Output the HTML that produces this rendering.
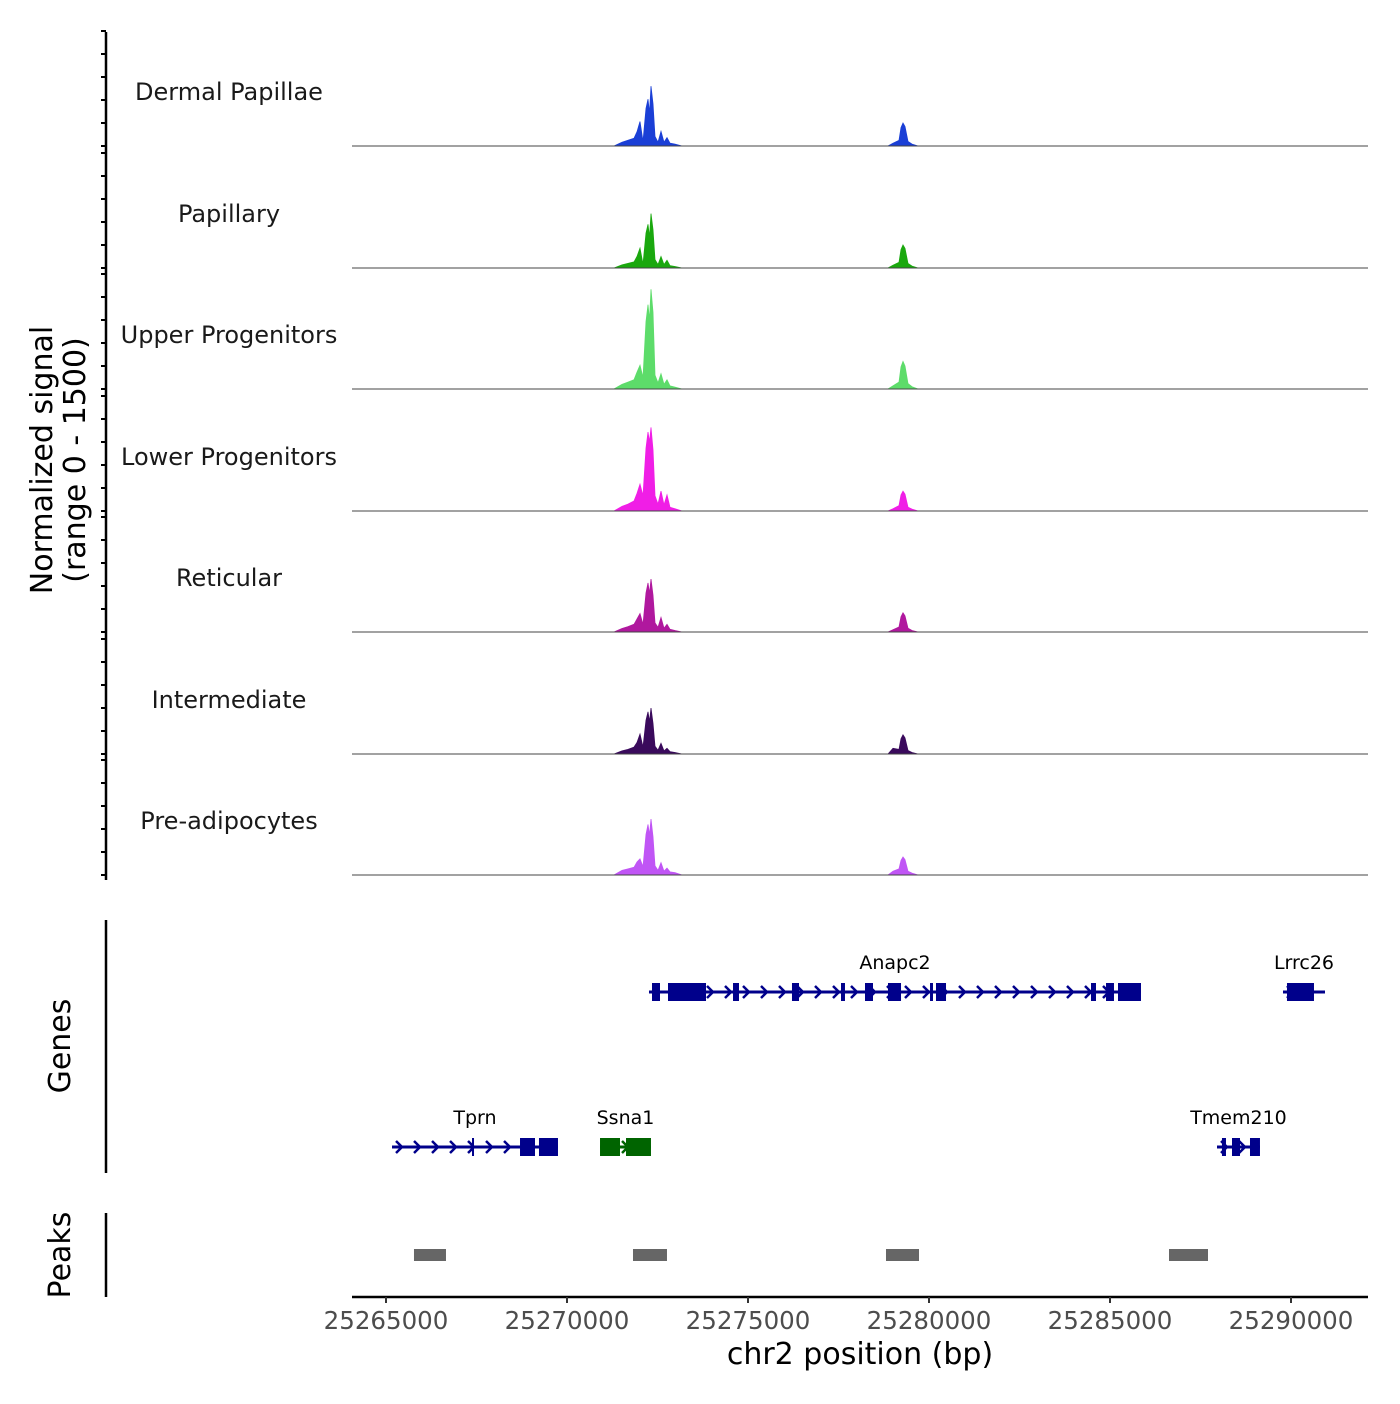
<!DOCTYPE html>
<html><head><meta charset="utf-8"><style>
body{margin:0;background:#fff;font-family:"DejaVu Sans","Liberation Sans",sans-serif}
</style></head><body>
<svg id="chart" width="1400" height="1400" xmlns="http://www.w3.org/2000/svg" font-family="DejaVu Sans, Liberation Sans, sans-serif"></svg>
<script>
const trackNames = ["Dermal Papillae","Papillary","Upper Progenitors","Lower Progenitors","Reticular","Intermediate","Pre-adipocytes"];
const trackColors = ["#1a3fd6","#1aa80e","#5ddc6a","#f01ee6","#b0189e","#3a0a5c","#c055f5"];
const binPos = [25271298,25271519,25271685,25271851,25271934,25272017,25272099,25272182,25272238,25272279,25272320,25272376,25272431,25272514,25272597,25272680,25272762,25272845,25272983,25273177,
 25278867,25279006,25279171,25279227,25279282,25279337,25279420,25279530,25279696];
const sigDermal = [0,50,75,100,185,320,60,490,610,430,780,550,125,50,190,50,110,37,25,0, 0,37,75,240,300,255,60,25,0];
const sigPapillary = [0,40,60,80,150,260,50,455,570,400,710,500,110,45,150,45,100,30,20,0, 0,37,75,240,300,255,60,25,0];
const sigUpper = [0,60,90,120,220,310,150,880,1100,900,1300,1000,180,80,200,60,120,40,25,0, 0,40,90,290,360,300,70,30,0];
const sigLower = [0,60,90,130,230,350,200,820,1030,900,1090,800,200,90,260,80,210,50,30,0, 0,30,70,210,260,220,50,25,0];
const sigReticular = [0,45,70,100,170,240,100,510,640,500,690,480,120,60,190,50,100,35,20,0, 0,30,65,200,250,210,50,20,0];
const sigIntermediate = [0,40,60,90,150,260,90,440,550,420,600,400,100,50,140,40,75,30,20,0, 0,75,60,200,250,210,45,20,0];
const sigPreadipo = [0,60,80,100,170,210,110,530,660,520,730,500,120,60,160,50,90,40,30,0, 0,50,80,190,235,200,50,25,0];
const signals = [sigDermal,sigPapillary,sigUpper,sigLower,sigReticular,sigIntermediate,sigPreadipo];
const yTickVals = [0,300,600,900,1200,1500];
const xTicks = [25265000,25270000,25275000,25280000,25285000,25290000];
const geneNames = ["Anapc2","Lrrc26","Tprn","Ssna1","Tmem210"];
const geneStart = [25272265,25289779,25265166,25270912,25287956];
const geneEnd = [25285856,25290939,25269751,25272320,25289143];
const geneRow = [0,0,1,1,1];
const geneColor = ["#00008b","#00008b","#00008b","#006400","#00008b"];
const geneExons = [
 [[25272348,25272569],[25272790,25273840],[25274586,25274751],[25276215,25276409],[25277569,25277679],[25278232,25278453],[25278867,25279227],[25280028,25280110],[25280193,25280470],[25284475,25284613],[25284890,25285110],[25285221,25285856]],
 [[25289889,25290635]],
 [[25267376,25267430],[25268702,25269116],[25269226,25269751]],
 [[25270912,25271464],[25271630,25272320]],
 [[25288093,25288204],[25288370,25288591],[25288867,25289143]]
];
const peakStart = [25265773,25271823,25278812,25286630];
const peakEnd = [25266657,25272762,25279724,25287707];

const NS="http://www.w3.org/2000/svg";
const svg=document.getElementById('chart');
function mk(t,a,p){const e=document.createElementNS(NS,t);for(const k in a)e.setAttribute(k,a[k]);(p||svg).appendChild(e);return e;}
const X0=352,X1=1368;
const xs=bp=>386+(bp-25265000)*(905/25000);
const baselines=[146,268,389,511,632,754,875];
const ys=(v,b)=>b-v*(115/1500);

let e=mk('line',{x1:106,y1:32,x2:106,y2:880,stroke:'#000','stroke-width':2.5});


baselines.forEach((b,i)=>{
  yTickVals.forEach(v=>{
    const t=mk('line',{x1:101,x2:106,y1:ys(v,b),y2:ys(v,b),stroke:'#000','stroke-width':2});
    
    
  });
});
trackNames.forEach((n,i)=>{
  const b=baselines[i];
  const sig=signals[i];
  let d=`M${X0},${b} L${xs(binPos[0])},${b}`;
  for(let k=0;k<binPos.length;k++){d+=` L${xs(binPos[k]).toFixed(1)},${ys(sig[k],b).toFixed(1)}`;}
  d+=` L${xs(binPos[binPos.length-1])},${b} Z`;
  const p=mk('path',{d:d,fill:trackColors[i],stroke:trackColors[i],'stroke-width':0.8});
  
  
  const bl=mk('line',{x1:X0,x2:X1,y1:b,y2:b,stroke:'#444','stroke-width':1});
  
  
  const lt=mk('text',{x:229,y:b-46,'text-anchor':'middle','font-size':24,fill:'#1a1a1a'});
  lt.textContent=n;
  
  
});
const yt=mk('text',{transform:'translate(52,460) rotate(-90)','text-anchor':'middle','font-size':30,fill:'#000'});


const ts1=mk('tspan',{x:0,dy:0},yt);ts1.textContent='Normalized signal';
const ts2=mk('tspan',{x:0,dy:33},yt);ts2.textContent='(range 0 - 1500)';

e=mk('line',{x1:106,y1:920,x2:106,y2:1173,stroke:'#000','stroke-width':2.5});


const gl=mk('text',{transform:'translate(70,1046) rotate(-90)','text-anchor':'middle','font-size':30});
gl.textContent='Genes';


const rowY=[992,1147];
geneNames.forEach((g,i)=>{
  const y=rowY[geneRow[i]],c=geneColor[i];
  const grp=mk('g',{});
  
  
  const x1=xs(geneStart[i]),x2=xs(geneEnd[i]);
  mk('line',{x1:x1,x2:x2,y1:y,y2:y,stroke:c,'stroke-width':3},grp);
  for(let x=x1+4;x<x2-4;x+=18){
    mk('path',{d:`M${x},${y-6} L${x+6},${y} L${x},${y+6}`,fill:'none',stroke:c,'stroke-width':2.5},grp);
  }
  geneExons[i].forEach(ex=>{
    const a=xs(ex[0]),b=xs(ex[1]);
    mk('rect',{x:a,y:y-9,width:Math.max(2,b-a),height:18,fill:c},grp);
  });
  const t=mk('text',{x:(x1+x2)/2,y:y-23,'text-anchor':'middle','font-size':19,fill:'#000'},grp);
  t.textContent=g;
});

e=mk('line',{x1:106,y1:1213,x2:106,y2:1297,stroke:'#000','stroke-width':2.5});


const pl=mk('text',{transform:'translate(70,1255) rotate(-90)','text-anchor':'middle','font-size':30});
pl.textContent='Peaks';


peakStart.forEach((s,i)=>{
  const r=mk('rect',{x:xs(s),y:1249,width:xs(peakEnd[i])-xs(s),height:12,fill:'#666'});
  
  
});

e=mk('line',{x1:X0,x2:X1,y1:1297,y2:1297,stroke:'#000','stroke-width':2.5});


xTicks.forEach(v=>{
  const t=mk('line',{x1:xs(v),x2:xs(v),y1:1297,y2:1303,stroke:'#333','stroke-width':2});
  
  
  const l=mk('text',{x:xs(v),y:1329,'text-anchor':'middle','font-size':24.5,fill:'#4d4d4d'});
  l.textContent=v;
  
  
});
const xt=mk('text',{x:860,y:1364,'text-anchor':'middle','font-size':30,fill:'#000'});
xt.textContent='chr2 position (bp)';


</script>
</body></html>
